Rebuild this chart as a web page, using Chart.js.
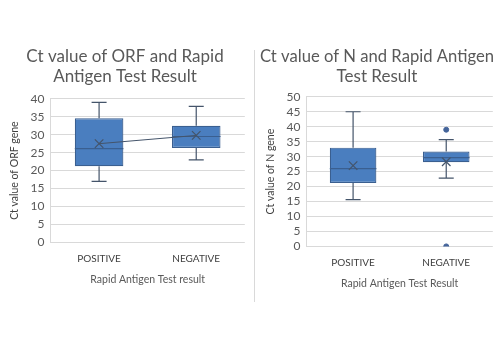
<!DOCTYPE html>
<html>
<head>
<meta charset="utf-8">
<script src="https://cdn.jsdelivr.net/npm/chart.js@4"></script>
<style>
  body { margin: 0; background: #fff; }
  #wrap { position: relative; width: 500px; height: 352px; overflow: hidden; }
  .box { position: absolute; }
  #sep { position: absolute; left: 254px; top: 50px; width: 0; height: 252px; border-left: 1px solid #d9d9d9; }
</style>
</head>
<body>
<div id="wrap">
  <div class="box" style="left:0;top:40px;width:252px;height:250px;"><canvas id="orfChart"></canvas></div>
  <div id="sep"></div>
  <div class="box" style="left:256px;top:40px;width:244px;height:254px;"><canvas id="nChart"></canvas></div>
</div>
<script>
const categories = ["POSITIVE", "NEGATIVE"];

// ORF gene
const orfMin = [17.0, 23.0];
const orfQ1 = [21.2, 26.3];
const orfMedian = [26.1, 29.5];
const orfQ3 = [34.6, 32.5];
const orfMax = [39.0, 37.9];
const orfMean = [27.5, 29.8];

// N gene
const nMin = [15.6, 22.8];
const nQ1 = [21.2, 28.1];
const nMedian = [26.0, 29.7];
const nQ3 = [33.0, 31.7];
const nMax = [45.0, 35.7];
const nMean = [27.0, 28.3];
const nOutlierCats = ["NEGATIVE", "NEGATIVE"];
const nOutliers = [39.0, 0];

const boxFill = "#4a7ebf";
const boxLine = "#3a5f90";
const whiskerColor = "#44546a";
const fontFamily = "Lato, 'Open Sans', sans-serif";

const whiskerPlugin = {
    id: "whiskers",
    afterDatasetDraw(chart, args, opts) {
        if (args.index !== 0) return;
        const ctx = chart.ctx;
        const y = chart.scales.y;
        const bars = chart.getDatasetMeta(0).data;
        ctx.save();
        ctx.lineWidth = 1.2;
        bars.forEach((bar, i) => {
            const x = bar.x;
            const half = bar.width / 2;
            const yMin = y.getPixelForValue(opts.min[i]);
            const yMax = y.getPixelForValue(opts.max[i]);
            const yQ1 = y.getPixelForValue(opts.q1[i]);
            const yQ3 = y.getPixelForValue(opts.q3[i]);
            const yMed = y.getPixelForValue(opts.median[i]);
            ctx.strokeStyle = whiskerColor;
            ctx.beginPath();
            ctx.moveTo(x, yQ3); ctx.lineTo(x, yMax);
            ctx.moveTo(x - 7.5, yMax); ctx.lineTo(x + 7.5, yMax);
            ctx.moveTo(x, yQ1); ctx.lineTo(x, yMin);
            ctx.moveTo(x - 7.5, yMin); ctx.lineTo(x + 7.5, yMin);
            ctx.stroke();
            ctx.strokeStyle = boxLine;
            ctx.beginPath();
            ctx.moveTo(x - half, yMed); ctx.lineTo(x + half, yMed);
            ctx.stroke();
        });
        ctx.restore();
    }
};

function buildBoxChart(canvasId, title, titleGap, yTitle, xTitle, yMax, stats, extraDatasets, meanLine) {
    const datasets = [
        {
            type: "bar",
            data: stats.q1.map((v, i) => [v, stats.q3[i]]),
            backgroundColor: boxFill,
            borderColor: boxLine,
            borderWidth: 1.2,
            borderSkipped: false,
            barPercentage: 0.5,
            categoryPercentage: 1,
            order: 3
        },
        {
            type: "line",
            data: stats.mean,
            showLine: meanLine,
            borderColor: whiskerColor,
            borderWidth: 1,
            pointStyle: "crossRot",
            pointRadius: 6,
            pointBorderWidth: 1.2,
            pointBorderColor: whiskerColor,
            order: 1
        }
    ].concat(extraDatasets);

    return new Chart(document.getElementById(canvasId), {
        data: { labels: categories, datasets },
        options: {
            responsive: true,
            maintainAspectRatio: false,
            animation: false,
            layout: { padding: { left: 4, right: 6, top: 0, bottom: 0 } },
            plugins: {
                legend: { display: false },
                tooltip: { enabled: false },
                title: {
                    display: true,
                    text: title,
                    color: "#595959",
                    font: { family: fontFamily, size: 17, weight: "normal" },
                    padding: { top: 6, bottom: titleGap },
                    lineHeight: 1.22
                },
                whiskers: stats
            },
            scales: {
                x: {
                    grid: { display: false },
                    border: { display: false },
                    ticks: { color: "#404040", font: { family: fontFamily, size: 10 }, padding: 2 },
                    title: { display: true, text: xTitle, color: "#595959", font: { family: fontFamily, size: 10.5 }, padding: { top: 7 } }
                },
                y: {
                    min: 0,
                    max: yMax,
                    grid: { color: "#d9d9d9", drawTicks: false },
                    border: { color: "#d9d9d9" },
                    ticks: { stepSize: 5, autoSkip: false, color: "#595959", font: { family: fontFamily, size: 12 }, padding: 6 },
                    title: { display: true, text: yTitle, color: "#404040", font: { family: fontFamily, size: 10.5 } }
                }
            }
        },
        plugins: [whiskerPlugin]
    });
}

buildBoxChart(
    "orfChart",
    ["Ct value of ORF and Rapid", "Antigen Test Result"],
    12,
    "Ct value of ORF gene",
    "Rapid Antigen Test result",
    40,
    { min: orfMin, q1: orfQ1, median: orfMedian, q3: orfQ3, max: orfMax, mean: orfMean },
    [],
    true
);

buildBoxChart(
    "nChart",
    ["Ct value of N and Rapid Antigen", "Test Result"],
    10,
    "Ct value of N gene",
    "Rapid Antigen Test Result",
    50,
    { min: nMin, q1: nQ1, median: nMedian, q3: nQ3, max: nMax, mean: nMean },
    [{
        type: "line",
        data: nOutlierCats.map((c, i) => ({ x: c, y: nOutliers[i] })),
        showLine: false,
        pointStyle: "circle",
        pointRadius: 2.5,
        pointBackgroundColor: "#44649a",
        pointBorderColor: "#44649a",
        order: 0
    }],
    false
);
</script>
</body>
</html>
